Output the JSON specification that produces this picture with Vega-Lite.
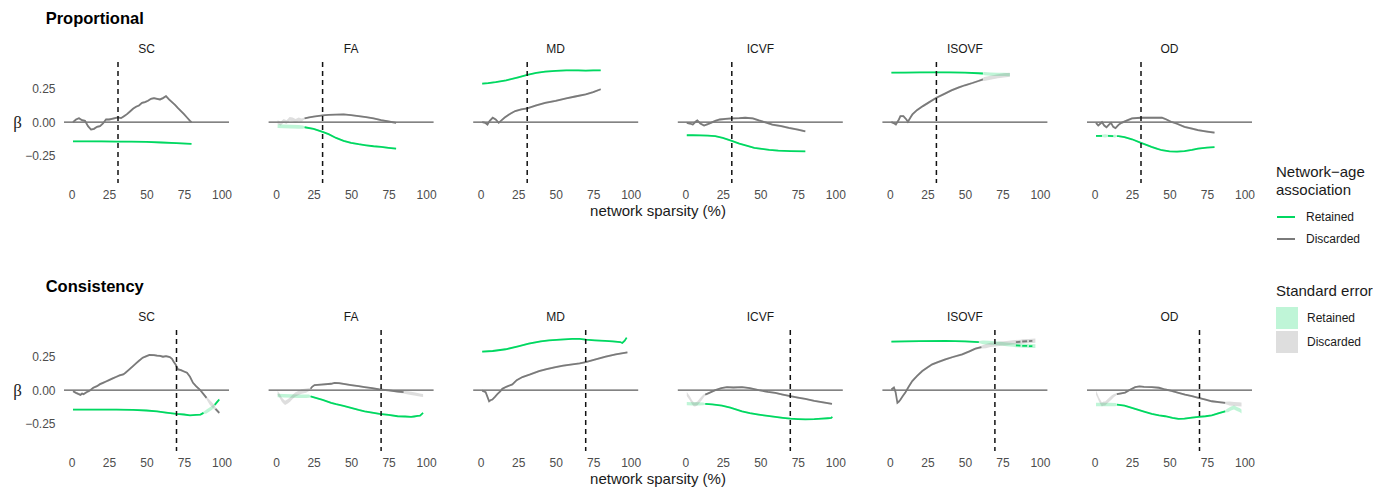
{
"$schema":"https://vega.github.io/schema/vega-lite/v6.json",
"background":"white",
"padding":{"left":12,"top":10,"right":0,"bottom":0},
"datasets":{
"P":[
{"v":"SC","s":"R","x":1,"y":-0.143,"e":0.006},{"v":"SC","s":"R","x":10,"y":-0.143,"e":0.006},{"v":"SC","s":"R","x":20,"y":-0.144,"e":0.006},{"v":"SC","s":"R","x":30,"y":-0.145,"e":0.006},{"v":"SC","s":"R","x":40,"y":-0.146,"e":0.006},{"v":"SC","s":"R","x":50,"y":-0.148,"e":0.006},{"v":"SC","s":"R","x":60,"y":-0.152,"e":0.006},{"v":"SC","s":"R","x":70,"y":-0.157,"e":0.006},{"v":"SC","s":"R","x":80,"y":-0.163,"e":0.006},
{"v":"SC","s":"D","x":1,"y":0.0,"e":0.008},{"v":"SC","s":"D","x":3,"y":0.02,"e":0.008},{"v":"SC","s":"D","x":5,"y":0.03,"e":0.008},{"v":"SC","s":"D","x":7,"y":0.015,"e":0.008},{"v":"SC","s":"D","x":9,"y":0.01,"e":0.008},{"v":"SC","s":"D","x":11,"y":-0.03,"e":0.008},{"v":"SC","s":"D","x":13,"y":-0.055,"e":0.008},{"v":"SC","s":"D","x":15,"y":-0.05,"e":0.008},{"v":"SC","s":"D","x":17,"y":-0.035,"e":0.008},{"v":"SC","s":"D","x":19,"y":-0.03,"e":0.008},{"v":"SC","s":"D","x":21,"y":-0.01,"e":0.008},{"v":"SC","s":"D","x":23,"y":0.02,"e":0.008},{"v":"SC","s":"D","x":25,"y":0.02,"e":0.008},{"v":"SC","s":"D","x":27,"y":0.025,"e":0.008},{"v":"SC","s":"D","x":29,"y":0.03,"e":0.008},{"v":"SC","s":"D","x":31,"y":0.035,"e":0.008},{"v":"SC","s":"D","x":33,"y":0.03,"e":0.008},{"v":"SC","s":"D","x":35,"y":0.045,"e":0.008},{"v":"SC","s":"D","x":37,"y":0.06,"e":0.008},{"v":"SC","s":"D","x":39,"y":0.08,"e":0.008},{"v":"SC","s":"D","x":41,"y":0.1,"e":0.008},{"v":"SC","s":"D","x":43,"y":0.115,"e":0.008},{"v":"SC","s":"D","x":45,"y":0.125,"e":0.008},{"v":"SC","s":"D","x":47,"y":0.145,"e":0.008},{"v":"SC","s":"D","x":49,"y":0.15,"e":0.008},{"v":"SC","s":"D","x":51,"y":0.16,"e":0.008},{"v":"SC","s":"D","x":53,"y":0.175,"e":0.008},{"v":"SC","s":"D","x":55,"y":0.18,"e":0.008},{"v":"SC","s":"D","x":57,"y":0.175,"e":0.008},{"v":"SC","s":"D","x":59,"y":0.17,"e":0.008},{"v":"SC","s":"D","x":61,"y":0.18,"e":0.008},{"v":"SC","s":"D","x":63,"y":0.195,"e":0.008},{"v":"SC","s":"D","x":65,"y":0.17,"e":0.008},{"v":"SC","s":"D","x":67,"y":0.15,"e":0.008},{"v":"SC","s":"D","x":69,"y":0.13,"e":0.008},{"v":"SC","s":"D","x":71,"y":0.105,"e":0.008},{"v":"SC","s":"D","x":73,"y":0.083,"e":0.008},{"v":"SC","s":"D","x":75,"y":0.06,"e":0.008},{"v":"SC","s":"D","x":77,"y":0.035,"e":0.008},{"v":"SC","s":"D","x":79,"y":0.01,"e":0.008},{"v":"SC","s":"D","x":80,"y":0.0,"e":0.008},
{"v":"FA","s":"R","x":1,"y":-0.03,"e":0.014,"h":1},{"v":"FA","s":"R","x":5,"y":-0.032,"e":0.014,"h":1},{"v":"FA","s":"R","x":10,"y":-0.033,"e":0.014,"h":1},{"v":"FA","s":"R","x":15,"y":-0.035,"e":0.014,"h":1},{"v":"FA","s":"R","x":18,"y":-0.037,"e":0.012,"h":1},{"v":"FA","s":"R","x":19,"y":-0.038,"e":0.006},{"v":"FA","s":"R","x":25,"y":-0.05,"e":0.006},{"v":"FA","s":"R","x":31,"y":-0.073,"e":0.006},{"v":"FA","s":"R","x":35,"y":-0.09,"e":0.006},{"v":"FA","s":"R","x":40,"y":-0.118,"e":0.006},{"v":"FA","s":"R","x":45,"y":-0.14,"e":0.006},{"v":"FA","s":"R","x":50,"y":-0.155,"e":0.006},{"v":"FA","s":"R","x":55,"y":-0.165,"e":0.006},{"v":"FA","s":"R","x":60,"y":-0.173,"e":0.006},{"v":"FA","s":"R","x":65,"y":-0.18,"e":0.006},{"v":"FA","s":"R","x":70,"y":-0.185,"e":0.006},{"v":"FA","s":"R","x":75,"y":-0.192,"e":0.006},{"v":"FA","s":"R","x":80,"y":-0.198,"e":0.006},
{"v":"FA","s":"D","x":1,"y":0.0,"e":0.014,"h":1},{"v":"FA","s":"D","x":3,"y":-0.01,"e":0.014,"h":1},{"v":"FA","s":"D","x":5,"y":0.01,"e":0.014,"h":1},{"v":"FA","s":"D","x":7,"y":0.0,"e":0.014,"h":1},{"v":"FA","s":"D","x":9,"y":0.025,"e":0.014,"h":1},{"v":"FA","s":"D","x":11,"y":0.02,"e":0.014,"h":1},{"v":"FA","s":"D","x":13,"y":0.01,"e":0.014,"h":1},{"v":"FA","s":"D","x":15,"y":0.02,"e":0.014,"h":1},{"v":"FA","s":"D","x":17,"y":0.015,"e":0.012,"h":1},{"v":"FA","s":"D","x":19,"y":0.028,"e":0.006},{"v":"FA","s":"D","x":22,"y":0.035,"e":0.006},{"v":"FA","s":"D","x":25,"y":0.042,"e":0.006},{"v":"FA","s":"D","x":31,"y":0.05,"e":0.006},{"v":"FA","s":"D","x":35,"y":0.055,"e":0.006},{"v":"FA","s":"D","x":40,"y":0.057,"e":0.006},{"v":"FA","s":"D","x":45,"y":0.058,"e":0.006},{"v":"FA","s":"D","x":50,"y":0.052,"e":0.006},{"v":"FA","s":"D","x":55,"y":0.045,"e":0.006},{"v":"FA","s":"D","x":60,"y":0.038,"e":0.006},{"v":"FA","s":"D","x":65,"y":0.028,"e":0.006},{"v":"FA","s":"D","x":70,"y":0.015,"e":0.006},{"v":"FA","s":"D","x":75,"y":0.005,"e":0.006},{"v":"FA","s":"D","x":80,"y":-0.005,"e":0.006},
{"v":"MD","s":"R","x":1,"y":0.288,"e":0.006},{"v":"MD","s":"R","x":5,"y":0.292,"e":0.006},{"v":"MD","s":"R","x":10,"y":0.3,"e":0.006},{"v":"MD","s":"R","x":17,"y":0.313,"e":0.006},{"v":"MD","s":"R","x":25,"y":0.335,"e":0.006},{"v":"MD","s":"R","x":31,"y":0.353,"e":0.006},{"v":"MD","s":"R","x":37,"y":0.368,"e":0.006},{"v":"MD","s":"R","x":43,"y":0.378,"e":0.006},{"v":"MD","s":"R","x":50,"y":0.384,"e":0.006},{"v":"MD","s":"R","x":57,"y":0.388,"e":0.006},{"v":"MD","s":"R","x":65,"y":0.387,"e":0.006},{"v":"MD","s":"R","x":70,"y":0.385,"e":0.006},{"v":"MD","s":"R","x":75,"y":0.387,"e":0.006},{"v":"MD","s":"R","x":80,"y":0.388,"e":0.006},
{"v":"MD","s":"D","x":1,"y":0.0,"e":0.007},{"v":"MD","s":"D","x":3,"y":-0.005,"e":0.007},{"v":"MD","s":"D","x":4.5,"y":-0.018,"e":0.007},{"v":"MD","s":"D","x":6,"y":0.01,"e":0.007},{"v":"MD","s":"D","x":8,"y":0.033,"e":0.007},{"v":"MD","s":"D","x":10,"y":0.02,"e":0.007},{"v":"MD","s":"D","x":12,"y":-0.005,"e":0.007},{"v":"MD","s":"D","x":14,"y":0.015,"e":0.007},{"v":"MD","s":"D","x":16,"y":0.035,"e":0.007},{"v":"MD","s":"D","x":20,"y":0.065,"e":0.007},{"v":"MD","s":"D","x":23,"y":0.083,"e":0.007},{"v":"MD","s":"D","x":27,"y":0.095,"e":0.007},{"v":"MD","s":"D","x":31,"y":0.103,"e":0.007},{"v":"MD","s":"D","x":37,"y":0.125,"e":0.007},{"v":"MD","s":"D","x":43,"y":0.145,"e":0.007},{"v":"MD","s":"D","x":50,"y":0.16,"e":0.007},{"v":"MD","s":"D","x":57,"y":0.178,"e":0.007},{"v":"MD","s":"D","x":63,"y":0.192,"e":0.007},{"v":"MD","s":"D","x":70,"y":0.208,"e":0.007},{"v":"MD","s":"D","x":75,"y":0.225,"e":0.007},{"v":"MD","s":"D","x":80,"y":0.246,"e":0.007},
{"v":"ICVF","s":"R","x":1,"y":-0.098,"e":0.006},{"v":"ICVF","s":"R","x":5,"y":-0.098,"e":0.006},{"v":"ICVF","s":"R","x":10,"y":-0.099,"e":0.006},{"v":"ICVF","s":"R","x":15,"y":-0.1,"e":0.006},{"v":"ICVF","s":"R","x":20,"y":-0.105,"e":0.006},{"v":"ICVF","s":"R","x":25,"y":-0.118,"e":0.006},{"v":"ICVF","s":"R","x":31,"y":-0.14,"e":0.006},{"v":"ICVF","s":"R","x":36,"y":-0.16,"e":0.006},{"v":"ICVF","s":"R","x":42,"y":-0.18,"e":0.006},{"v":"ICVF","s":"R","x":46,"y":-0.193,"e":0.006},{"v":"ICVF","s":"R","x":51,"y":-0.2,"e":0.006},{"v":"ICVF","s":"R","x":56,"y":-0.207,"e":0.006},{"v":"ICVF","s":"R","x":62,"y":-0.213,"e":0.006},{"v":"ICVF","s":"R","x":70,"y":-0.216,"e":0.006},{"v":"ICVF","s":"R","x":80,"y":-0.218,"e":0.006},
{"v":"ICVF","s":"D","x":1,"y":-0.005,"e":0.008},{"v":"ICVF","s":"D","x":3,"y":-0.01,"e":0.008},{"v":"ICVF","s":"D","x":5,"y":-0.018,"e":0.008},{"v":"ICVF","s":"D","x":7,"y":0.005,"e":0.008},{"v":"ICVF","s":"D","x":8,"y":0.013,"e":0.008},{"v":"ICVF","s":"D","x":10,"y":-0.01,"e":0.008},{"v":"ICVF","s":"D","x":12.5,"y":-0.025,"e":0.008},{"v":"ICVF","s":"D","x":15,"y":-0.015,"e":0.008},{"v":"ICVF","s":"D","x":17,"y":-0.005,"e":0.008},{"v":"ICVF","s":"D","x":20,"y":0.01,"e":0.008},{"v":"ICVF","s":"D","x":23,"y":0.02,"e":0.008},{"v":"ICVF","s":"D","x":27,"y":0.025,"e":0.008},{"v":"ICVF","s":"D","x":31,"y":0.028,"e":0.008},{"v":"ICVF","s":"D","x":36,"y":0.03,"e":0.008},{"v":"ICVF","s":"D","x":40,"y":0.033,"e":0.008},{"v":"ICVF","s":"D","x":45,"y":0.028,"e":0.008},{"v":"ICVF","s":"D","x":49,"y":0.013,"e":0.008},{"v":"ICVF","s":"D","x":54,"y":-0.003,"e":0.008},{"v":"ICVF","s":"D","x":58,"y":-0.018,"e":0.008},{"v":"ICVF","s":"D","x":64,"y":-0.03,"e":0.008},{"v":"ICVF","s":"D","x":69,"y":-0.043,"e":0.008},{"v":"ICVF","s":"D","x":75,"y":-0.055,"e":0.008},{"v":"ICVF","s":"D","x":80,"y":-0.068,"e":0.008},
{"v":"ISOVF","s":"R","x":1,"y":0.37,"e":0.006},{"v":"ISOVF","s":"R","x":10,"y":0.371,"e":0.006},{"v":"ISOVF","s":"R","x":20,"y":0.372,"e":0.006},{"v":"ISOVF","s":"R","x":31,"y":0.373,"e":0.006},{"v":"ISOVF","s":"R","x":40,"y":0.372,"e":0.006},{"v":"ISOVF","s":"R","x":50,"y":0.37,"e":0.006},{"v":"ISOVF","s":"R","x":59,"y":0.366,"e":0.006},{"v":"ISOVF","s":"R","x":62,"y":0.364,"e":0.008},{"v":"ISOVF","s":"R","x":63,"y":0.363,"e":0.012,"h":1},{"v":"ISOVF","s":"R","x":67,"y":0.36,"e":0.012,"h":1},{"v":"ISOVF","s":"R","x":72,"y":0.358,"e":0.012,"h":1},{"v":"ISOVF","s":"R","x":76,"y":0.357,"e":0.012,"h":1},{"v":"ISOVF","s":"R","x":80,"y":0.356,"e":0.012,"h":1},
{"v":"ISOVF","s":"D","x":1,"y":0.0,"e":0.008},{"v":"ISOVF","s":"D","x":3,"y":-0.01,"e":0.008},{"v":"ISOVF","s":"D","x":4,"y":-0.018,"e":0.008},{"v":"ISOVF","s":"D","x":6,"y":0.02,"e":0.008},{"v":"ISOVF","s":"D","x":7,"y":0.045,"e":0.008},{"v":"ISOVF","s":"D","x":9,"y":0.045,"e":0.008},{"v":"ISOVF","s":"D","x":11,"y":0.02,"e":0.008},{"v":"ISOVF","s":"D","x":12,"y":0.003,"e":0.008},{"v":"ISOVF","s":"D","x":14,"y":0.04,"e":0.008},{"v":"ISOVF","s":"D","x":15,"y":0.058,"e":0.008},{"v":"ISOVF","s":"D","x":18,"y":0.09,"e":0.008},{"v":"ISOVF","s":"D","x":22,"y":0.12,"e":0.008},{"v":"ISOVF","s":"D","x":26,"y":0.148,"e":0.008},{"v":"ISOVF","s":"D","x":31,"y":0.183,"e":0.008},{"v":"ISOVF","s":"D","x":36,"y":0.21,"e":0.008},{"v":"ISOVF","s":"D","x":41,"y":0.238,"e":0.008},{"v":"ISOVF","s":"D","x":46,"y":0.26,"e":0.008},{"v":"ISOVF","s":"D","x":50,"y":0.276,"e":0.008},{"v":"ISOVF","s":"D","x":55,"y":0.293,"e":0.008},{"v":"ISOVF","s":"D","x":59,"y":0.308,"e":0.008},{"v":"ISOVF","s":"D","x":62,"y":0.32,"e":0.01},{"v":"ISOVF","s":"D","x":63,"y":0.322,"e":0.015,"h":1},{"v":"ISOVF","s":"D","x":67,"y":0.333,"e":0.015,"h":1},{"v":"ISOVF","s":"D","x":72,"y":0.343,"e":0.015,"h":1},{"v":"ISOVF","s":"D","x":76,"y":0.35,"e":0.015,"h":1},{"v":"ISOVF","s":"D","x":80,"y":0.354,"e":0.015,"h":1},
{"v":"OD","s":"R","x":1,"y":-0.103,"e":0.006},{"v":"OD","s":"R","x":5,"y":-0.103,"e":0.008},{"v":"OD","s":"R","x":7,"y":-0.103,"e":0.012,"h":1},{"v":"OD","s":"R","x":9,"y":-0.103,"e":0.008,"g":2},{"v":"OD","s":"R","x":12.5,"y":-0.104,"e":0.008,"g":2},{"v":"OD","s":"R","x":13.5,"y":-0.104,"e":0.012,"h":1},{"v":"OD","s":"R","x":15,"y":-0.104,"e":0.006,"g":3},{"v":"OD","s":"R","x":16,"y":-0.105,"e":0.006,"g":3},{"v":"OD","s":"R","x":20,"y":-0.112,"e":0.006,"g":3},{"v":"OD","s":"R","x":25,"y":-0.128,"e":0.006,"g":3},{"v":"OD","s":"R","x":31,"y":-0.155,"e":0.006,"g":3},{"v":"OD","s":"R","x":35,"y":-0.172,"e":0.006,"g":3},{"v":"OD","s":"R","x":38,"y":-0.185,"e":0.006,"g":3},{"v":"OD","s":"R","x":42,"y":-0.2,"e":0.006,"g":3},{"v":"OD","s":"R","x":45,"y":-0.21,"e":0.006,"g":3},{"v":"OD","s":"R","x":50,"y":-0.218,"e":0.006,"g":3},{"v":"OD","s":"R","x":55,"y":-0.22,"e":0.006,"g":3},{"v":"OD","s":"R","x":60,"y":-0.216,"e":0.006,"g":3},{"v":"OD","s":"R","x":65,"y":-0.207,"e":0.006,"g":3},{"v":"OD","s":"R","x":69,"y":-0.198,"e":0.006,"g":3},{"v":"OD","s":"R","x":75,"y":-0.19,"e":0.006,"g":3},{"v":"OD","s":"R","x":80,"y":-0.186,"e":0.006,"g":3},
{"v":"OD","s":"D","x":1,"y":-0.005,"e":0.008},{"v":"OD","s":"D","x":2.5,"y":-0.025,"e":0.008},{"v":"OD","s":"D","x":4,"y":-0.01,"e":0.008},{"v":"OD","s":"D","x":5,"y":0.0,"e":0.008},{"v":"OD","s":"D","x":6.5,"y":-0.025,"e":0.008},{"v":"OD","s":"D","x":8,"y":-0.038,"e":0.008},{"v":"OD","s":"D","x":9.5,"y":-0.02,"e":0.008},{"v":"OD","s":"D","x":11,"y":-0.005,"e":0.008},{"v":"OD","s":"D","x":12.5,"y":-0.035,"e":0.008},{"v":"OD","s":"D","x":14,"y":-0.045,"e":0.008},{"v":"OD","s":"D","x":16,"y":-0.02,"e":0.008},{"v":"OD","s":"D","x":18,"y":-0.005,"e":0.008},{"v":"OD","s":"D","x":21,"y":0.01,"e":0.008},{"v":"OD","s":"D","x":25,"y":0.028,"e":0.008},{"v":"OD","s":"D","x":31,"y":0.033,"e":0.008},{"v":"OD","s":"D","x":38,"y":0.033,"e":0.008},{"v":"OD","s":"D","x":45,"y":0.033,"e":0.008},{"v":"OD","s":"D","x":48,"y":0.02,"e":0.008},{"v":"OD","s":"D","x":51,"y":0.003,"e":0.008},{"v":"OD","s":"D","x":55,"y":-0.012,"e":0.008},{"v":"OD","s":"D","x":60,"y":-0.035,"e":0.008},{"v":"OD","s":"D","x":65,"y":-0.048,"e":0.008},{"v":"OD","s":"D","x":69,"y":-0.06,"e":0.008},{"v":"OD","s":"D","x":75,"y":-0.07,"e":0.008},{"v":"OD","s":"D","x":80,"y":-0.078,"e":0.008}
],
"C":[
{"v":"SC","s":"R","x":1,"y":-0.145,"e":0.006},{"v":"SC","s":"R","x":10,"y":-0.145,"e":0.006},{"v":"SC","s":"R","x":20,"y":-0.145,"e":0.006},{"v":"SC","s":"R","x":30,"y":-0.145,"e":0.006},{"v":"SC","s":"R","x":41,"y":-0.148,"e":0.006},{"v":"SC","s":"R","x":50,"y":-0.152,"e":0.006},{"v":"SC","s":"R","x":57,"y":-0.158,"e":0.006},{"v":"SC","s":"R","x":63,"y":-0.168,"e":0.006},{"v":"SC","s":"R","x":70,"y":-0.178,"e":0.006},{"v":"SC","s":"R","x":75,"y":-0.182,"e":0.006},{"v":"SC","s":"R","x":79,"y":-0.188,"e":0.006},{"v":"SC","s":"R","x":83,"y":-0.185,"e":0.006},{"v":"SC","s":"R","x":86,"y":-0.183,"e":0.006},{"v":"SC","s":"R","x":88,"y":-0.17,"e":0.008},{"v":"SC","s":"R","x":90,"y":-0.16,"e":0.015,"h":1},{"v":"SC","s":"R","x":92,"y":-0.145,"e":0.015,"h":1},{"v":"SC","s":"R","x":94,"y":-0.13,"e":0.015,"h":1},{"v":"SC","s":"R","x":95.5,"y":-0.11,"e":0.01,"g":2},{"v":"SC","s":"R","x":97,"y":-0.09,"e":0.01,"g":2},{"v":"SC","s":"R","x":98.5,"y":-0.07,"e":0.01,"g":2},
{"v":"SC","s":"D","x":1,"y":-0.008,"e":0.008},{"v":"SC","s":"D","x":3,"y":-0.02,"e":0.008},{"v":"SC","s":"D","x":4.5,"y":-0.028,"e":0.008},{"v":"SC","s":"D","x":6,"y":-0.035,"e":0.008},{"v":"SC","s":"D","x":7,"y":-0.025,"e":0.008},{"v":"SC","s":"D","x":8,"y":-0.03,"e":0.008},{"v":"SC","s":"D","x":10,"y":-0.015,"e":0.008},{"v":"SC","s":"D","x":12,"y":-0.005,"e":0.008},{"v":"SC","s":"D","x":14.5,"y":0.018,"e":0.008},{"v":"SC","s":"D","x":17,"y":0.03,"e":0.008},{"v":"SC","s":"D","x":19,"y":0.045,"e":0.008},{"v":"SC","s":"D","x":21,"y":0.055,"e":0.008},{"v":"SC","s":"D","x":23,"y":0.065,"e":0.008},{"v":"SC","s":"D","x":25,"y":0.075,"e":0.008},{"v":"SC","s":"D","x":27.5,"y":0.088,"e":0.008},{"v":"SC","s":"D","x":30,"y":0.1,"e":0.008},{"v":"SC","s":"D","x":32,"y":0.11,"e":0.008},{"v":"SC","s":"D","x":34.5,"y":0.118,"e":0.008},{"v":"SC","s":"D","x":36,"y":0.13,"e":0.008},{"v":"SC","s":"D","x":38,"y":0.15,"e":0.008},{"v":"SC","s":"D","x":41,"y":0.18,"e":0.008},{"v":"SC","s":"D","x":43,"y":0.2,"e":0.008},{"v":"SC","s":"D","x":45,"y":0.22,"e":0.008},{"v":"SC","s":"D","x":47.5,"y":0.243,"e":0.008},{"v":"SC","s":"D","x":50,"y":0.255,"e":0.008},{"v":"SC","s":"D","x":52,"y":0.263,"e":0.008},{"v":"SC","s":"D","x":55,"y":0.262,"e":0.008},{"v":"SC","s":"D","x":57,"y":0.258,"e":0.008},{"v":"SC","s":"D","x":59,"y":0.256,"e":0.008},{"v":"SC","s":"D","x":61,"y":0.25,"e":0.008},{"v":"SC","s":"D","x":63,"y":0.255,"e":0.008},{"v":"SC","s":"D","x":65.5,"y":0.248,"e":0.008},{"v":"SC","s":"D","x":67,"y":0.235,"e":0.008},{"v":"SC","s":"D","x":68,"y":0.215,"e":0.008},{"v":"SC","s":"D","x":69.5,"y":0.19,"e":0.008},{"v":"SC","s":"D","x":71,"y":0.155,"e":0.008},{"v":"SC","s":"D","x":73,"y":0.15,"e":0.008},{"v":"SC","s":"D","x":75,"y":0.14,"e":0.008},{"v":"SC","s":"D","x":77,"y":0.13,"e":0.008},{"v":"SC","s":"D","x":79,"y":0.1,"e":0.008},{"v":"SC","s":"D","x":81,"y":0.055,"e":0.008},{"v":"SC","s":"D","x":83,"y":0.03,"e":0.008},{"v":"SC","s":"D","x":85.5,"y":0.005,"e":0.008},{"v":"SC","s":"D","x":88,"y":-0.03,"e":0.008},{"v":"SC","s":"D","x":90,"y":-0.058,"e":0.01},{"v":"SC","s":"D","x":92,"y":-0.09,"e":0.018,"h":1},{"v":"SC","s":"D","x":94.5,"y":-0.12,"e":0.018,"h":1},{"v":"SC","s":"D","x":96,"y":-0.14,"e":0.012,"g":2},{"v":"SC","s":"D","x":98.5,"y":-0.17,"e":0.012,"g":2},
{"v":"FA","s":"R","x":1,"y":-0.04,"e":0.013,"h":1},{"v":"FA","s":"R","x":5,"y":-0.042,"e":0.013,"h":1},{"v":"FA","s":"R","x":10,"y":-0.044,"e":0.013,"h":1},{"v":"FA","s":"R","x":15,"y":-0.045,"e":0.013,"h":1},{"v":"FA","s":"R","x":20,"y":-0.045,"e":0.013,"h":1},{"v":"FA","s":"R","x":22,"y":-0.045,"e":0.012,"h":1},{"v":"FA","s":"R","x":23,"y":-0.047,"e":0.006},{"v":"FA","s":"R","x":27,"y":-0.06,"e":0.006},{"v":"FA","s":"R","x":31,"y":-0.072,"e":0.006},{"v":"FA","s":"R","x":36.7,"y":-0.095,"e":0.006},{"v":"FA","s":"R","x":40,"y":-0.105,"e":0.006},{"v":"FA","s":"R","x":45,"y":-0.118,"e":0.006},{"v":"FA","s":"R","x":50,"y":-0.133,"e":0.006},{"v":"FA","s":"R","x":55,"y":-0.148,"e":0.006},{"v":"FA","s":"R","x":59,"y":-0.158,"e":0.006},{"v":"FA","s":"R","x":64,"y":-0.168,"e":0.006},{"v":"FA","s":"R","x":69,"y":-0.178,"e":0.006},{"v":"FA","s":"R","x":75,"y":-0.185,"e":0.006},{"v":"FA","s":"R","x":81,"y":-0.195,"e":0.006},{"v":"FA","s":"R","x":86,"y":-0.197,"e":0.006},{"v":"FA","s":"R","x":90,"y":-0.2,"e":0.006},{"v":"FA","s":"R","x":92,"y":-0.197,"e":0.006},{"v":"FA","s":"R","x":94.4,"y":-0.193,"e":0.006},{"v":"FA","s":"R","x":96,"y":-0.19,"e":0.006},{"v":"FA","s":"R","x":98,"y":-0.17,"e":0.006},
{"v":"FA","s":"D","x":1,"y":-0.02,"e":0.016,"h":1},{"v":"FA","s":"D","x":2.5,"y":-0.045,"e":0.016,"h":1},{"v":"FA","s":"D","x":3.8,"y":-0.07,"e":0.016,"h":1},{"v":"FA","s":"D","x":5,"y":-0.085,"e":0.016,"h":1},{"v":"FA","s":"D","x":6,"y":-0.095,"e":0.016,"h":1},{"v":"FA","s":"D","x":7.5,"y":-0.085,"e":0.016,"h":1},{"v":"FA","s":"D","x":9.3,"y":-0.07,"e":0.016,"h":1},{"v":"FA","s":"D","x":11,"y":-0.05,"e":0.016,"h":1},{"v":"FA","s":"D","x":12.7,"y":-0.033,"e":0.016,"h":1},{"v":"FA","s":"D","x":15,"y":-0.02,"e":0.016,"h":1},{"v":"FA","s":"D","x":17,"y":-0.01,"e":0.016,"h":1},{"v":"FA","s":"D","x":20,"y":-0.003,"e":0.016,"h":1},{"v":"FA","s":"D","x":22,"y":0.005,"e":0.012,"h":1},{"v":"FA","s":"D","x":23,"y":0.01,"e":0.007},{"v":"FA","s":"D","x":24,"y":0.025,"e":0.007},{"v":"FA","s":"D","x":25.6,"y":0.038,"e":0.007},{"v":"FA","s":"D","x":30,"y":0.042,"e":0.007},{"v":"FA","s":"D","x":36.7,"y":0.048,"e":0.007},{"v":"FA","s":"D","x":39,"y":0.055,"e":0.007},{"v":"FA","s":"D","x":42,"y":0.052,"e":0.007},{"v":"FA","s":"D","x":46,"y":0.045,"e":0.007},{"v":"FA","s":"D","x":50,"y":0.038,"e":0.007},{"v":"FA","s":"D","x":55,"y":0.03,"e":0.007},{"v":"FA","s":"D","x":59,"y":0.023,"e":0.007},{"v":"FA","s":"D","x":64,"y":0.015,"e":0.007},{"v":"FA","s":"D","x":69,"y":0.005,"e":0.007},{"v":"FA","s":"D","x":75,"y":-0.002,"e":0.007},{"v":"FA","s":"D","x":81,"y":-0.01,"e":0.008},{"v":"FA","s":"D","x":85,"y":-0.015,"e":0.01},{"v":"FA","s":"D","x":88,"y":-0.02,"e":0.012,"h":1},{"v":"FA","s":"D","x":92,"y":-0.028,"e":0.012,"h":1},{"v":"FA","s":"D","x":96.7,"y":-0.038,"e":0.012,"h":1},{"v":"FA","s":"D","x":98,"y":-0.04,"e":0.012,"h":1},
{"v":"MD","s":"R","x":1,"y":0.288,"e":0.006},{"v":"MD","s":"R","x":8,"y":0.293,"e":0.006},{"v":"MD","s":"R","x":16.7,"y":0.306,"e":0.006},{"v":"MD","s":"R","x":25,"y":0.328,"e":0.006},{"v":"MD","s":"R","x":32,"y":0.348,"e":0.006},{"v":"MD","s":"R","x":40,"y":0.365,"e":0.006},{"v":"MD","s":"R","x":45.6,"y":0.373,"e":0.006},{"v":"MD","s":"R","x":53,"y":0.378,"e":0.006},{"v":"MD","s":"R","x":61,"y":0.383,"e":0.006},{"v":"MD","s":"R","x":66,"y":0.383,"e":0.006},{"v":"MD","s":"R","x":70,"y":0.378,"e":0.006},{"v":"MD","s":"R","x":76,"y":0.373,"e":0.006},{"v":"MD","s":"R","x":83,"y":0.368,"e":0.006},{"v":"MD","s":"R","x":88,"y":0.365,"e":0.006},{"v":"MD","s":"R","x":93,"y":0.36,"e":0.006},{"v":"MD","s":"R","x":94.4,"y":0.353,"e":0.006},{"v":"MD","s":"R","x":96,"y":0.37,"e":0.006},{"v":"MD","s":"R","x":97.3,"y":0.393,"e":0.006},
{"v":"MD","s":"D","x":1,"y":-0.003,"e":0.007},{"v":"MD","s":"D","x":3.3,"y":-0.015,"e":0.007},{"v":"MD","s":"D","x":4.5,"y":-0.05,"e":0.007},{"v":"MD","s":"D","x":5.6,"y":-0.083,"e":0.007},{"v":"MD","s":"D","x":6.5,"y":-0.075,"e":0.007},{"v":"MD","s":"D","x":7.8,"y":-0.07,"e":0.007},{"v":"MD","s":"D","x":9.5,"y":-0.05,"e":0.007},{"v":"MD","s":"D","x":11.1,"y":-0.03,"e":0.007},{"v":"MD","s":"D","x":13,"y":-0.01,"e":0.007},{"v":"MD","s":"D","x":14.4,"y":0.01,"e":0.007},{"v":"MD","s":"D","x":17,"y":0.025,"e":0.007},{"v":"MD","s":"D","x":21.1,"y":0.043,"e":0.007},{"v":"MD","s":"D","x":24,"y":0.075,"e":0.007},{"v":"MD","s":"D","x":27.8,"y":0.098,"e":0.007},{"v":"MD","s":"D","x":33,"y":0.118,"e":0.007},{"v":"MD","s":"D","x":38.9,"y":0.143,"e":0.007},{"v":"MD","s":"D","x":44,"y":0.158,"e":0.007},{"v":"MD","s":"D","x":50,"y":0.173,"e":0.007},{"v":"MD","s":"D","x":55,"y":0.183,"e":0.007},{"v":"MD","s":"D","x":61.1,"y":0.193,"e":0.007},{"v":"MD","s":"D","x":66,"y":0.2,"e":0.007},{"v":"MD","s":"D","x":70,"y":0.21,"e":0.007},{"v":"MD","s":"D","x":76,"y":0.228,"e":0.007},{"v":"MD","s":"D","x":83.3,"y":0.25,"e":0.007},{"v":"MD","s":"D","x":90,"y":0.268,"e":0.007},{"v":"MD","s":"D","x":97.8,"y":0.283,"e":0.007},
{"v":"ICVF","s":"R","x":1,"y":-0.1,"e":0.012,"h":1},{"v":"ICVF","s":"R","x":5,"y":-0.102,"e":0.012,"h":1},{"v":"ICVF","s":"R","x":9,"y":-0.103,"e":0.012,"h":1},{"v":"ICVF","s":"R","x":12,"y":-0.103,"e":0.01,"h":1},{"v":"ICVF","s":"R","x":13.3,"y":-0.103,"e":0.006},{"v":"ICVF","s":"R","x":18,"y":-0.107,"e":0.006},{"v":"ICVF","s":"R","x":24.4,"y":-0.115,"e":0.006},{"v":"ICVF","s":"R","x":30,"y":-0.13,"e":0.006},{"v":"ICVF","s":"R","x":37.8,"y":-0.158,"e":0.006},{"v":"ICVF","s":"R","x":43,"y":-0.172,"e":0.006},{"v":"ICVF","s":"R","x":48.9,"y":-0.183,"e":0.006},{"v":"ICVF","s":"R","x":55,"y":-0.193,"e":0.006},{"v":"ICVF","s":"R","x":60,"y":-0.2,"e":0.006},{"v":"ICVF","s":"R","x":65,"y":-0.207,"e":0.006},{"v":"ICVF","s":"R","x":70,"y":-0.213,"e":0.006},{"v":"ICVF","s":"R","x":75,"y":-0.216,"e":0.006},{"v":"ICVF","s":"R","x":80,"y":-0.218,"e":0.006},{"v":"ICVF","s":"R","x":86,"y":-0.216,"e":0.006},{"v":"ICVF","s":"R","x":91.1,"y":-0.213,"e":0.006},{"v":"ICVF","s":"R","x":95,"y":-0.21,"e":0.006},{"v":"ICVF","s":"R","x":97.3,"y":-0.208,"e":0.006},{"v":"ICVF","s":"R","x":98,"y":-0.2,"e":0.006},
{"v":"ICVF","s":"D","x":1,"y":-0.028,"e":0.015,"h":1},{"v":"ICVF","s":"D","x":3,"y":-0.06,"e":0.015,"h":1},{"v":"ICVF","s":"D","x":4.5,"y":-0.09,"e":0.015,"h":1},{"v":"ICVF","s":"D","x":5.8,"y":-0.108,"e":0.015,"h":1},{"v":"ICVF","s":"D","x":7,"y":-0.105,"e":0.015,"h":1},{"v":"ICVF","s":"D","x":8,"y":-0.1,"e":0.015,"h":1},{"v":"ICVF","s":"D","x":9.5,"y":-0.08,"e":0.015,"h":1},{"v":"ICVF","s":"D","x":11.1,"y":-0.058,"e":0.015,"h":1},{"v":"ICVF","s":"D","x":12.5,"y":-0.04,"e":0.012,"h":1},{"v":"ICVF","s":"D","x":13.3,"y":-0.033,"e":0.007},{"v":"ICVF","s":"D","x":16,"y":-0.02,"e":0.007},{"v":"ICVF","s":"D","x":20,"y":0.0,"e":0.007},{"v":"ICVF","s":"D","x":24,"y":0.015,"e":0.007},{"v":"ICVF","s":"D","x":27.8,"y":0.023,"e":0.007},{"v":"ICVF","s":"D","x":32,"y":0.02,"e":0.007},{"v":"ICVF","s":"D","x":37.8,"y":0.023,"e":0.007},{"v":"ICVF","s":"D","x":43,"y":0.015,"e":0.007},{"v":"ICVF","s":"D","x":48.9,"y":0.0,"e":0.007},{"v":"ICVF","s":"D","x":55,"y":-0.012,"e":0.007},{"v":"ICVF","s":"D","x":60,"y":-0.02,"e":0.007},{"v":"ICVF","s":"D","x":65,"y":-0.033,"e":0.007},{"v":"ICVF","s":"D","x":70,"y":-0.045,"e":0.007},{"v":"ICVF","s":"D","x":75,"y":-0.055,"e":0.007},{"v":"ICVF","s":"D","x":80,"y":-0.065,"e":0.007},{"v":"ICVF","s":"D","x":86,"y":-0.08,"e":0.007},{"v":"ICVF","s":"D","x":92,"y":-0.092,"e":0.007},{"v":"ICVF","s":"D","x":97.8,"y":-0.103,"e":0.007},
{"v":"ISOVF","s":"R","x":1,"y":0.363,"e":0.006},{"v":"ISOVF","s":"R","x":10,"y":0.365,"e":0.006},{"v":"ISOVF","s":"R","x":20,"y":0.367,"e":0.006},{"v":"ISOVF","s":"R","x":37,"y":0.368,"e":0.006},{"v":"ISOVF","s":"R","x":50,"y":0.365,"e":0.006},{"v":"ISOVF","s":"R","x":59.3,"y":0.36,"e":0.008},{"v":"ISOVF","s":"R","x":62,"y":0.358,"e":0.014,"h":1},{"v":"ISOVF","s":"R","x":66,"y":0.355,"e":0.014,"h":1},{"v":"ISOVF","s":"R","x":70,"y":0.352,"e":0.014,"h":1},{"v":"ISOVF","s":"R","x":74,"y":0.348,"e":0.014,"h":1},{"v":"ISOVF","s":"R","x":78,"y":0.343,"e":0.014,"h":1},{"v":"ISOVF","s":"R","x":82,"y":0.338,"e":0.014,"h":1},{"v":"ISOVF","s":"R","x":84,"y":0.335,"e":0.014,"g":2},{"v":"ISOVF","s":"R","x":87,"y":0.333,"e":0.014,"g":2},{"v":"ISOVF","s":"R","x":87.6,"y":0.333,"e":0.014,"h":1},{"v":"ISOVF","s":"R","x":88.2,"y":0.332,"e":0.014,"g":3},{"v":"ISOVF","s":"R","x":91.5,"y":0.331,"e":0.014,"g":3},{"v":"ISOVF","s":"R","x":92.1,"y":0.331,"e":0.014,"h":1},{"v":"ISOVF","s":"R","x":92.7,"y":0.33,"e":0.014,"g":4},{"v":"ISOVF","s":"R","x":95,"y":0.329,"e":0.014,"g":4},{"v":"ISOVF","s":"R","x":97,"y":0.329,"e":0.014,"h":1},
{"v":"ISOVF","s":"D","x":1,"y":0.005,"e":0.008},{"v":"ISOVF","s":"D","x":2.7,"y":0.02,"e":0.008},{"v":"ISOVF","s":"D","x":3.8,"y":-0.015,"e":0.008},{"v":"ISOVF","s":"D","x":5,"y":-0.095,"e":0.008},{"v":"ISOVF","s":"D","x":6,"y":-0.085,"e":0.008},{"v":"ISOVF","s":"D","x":7.1,"y":-0.07,"e":0.008},{"v":"ISOVF","s":"D","x":8.5,"y":-0.045,"e":0.008},{"v":"ISOVF","s":"D","x":10.4,"y":-0.015,"e":0.008},{"v":"ISOVF","s":"D","x":12.5,"y":0.025,"e":0.008},{"v":"ISOVF","s":"D","x":14.9,"y":0.068,"e":0.008},{"v":"ISOVF","s":"D","x":18,"y":0.105,"e":0.008},{"v":"ISOVF","s":"D","x":21.6,"y":0.143,"e":0.008},{"v":"ISOVF","s":"D","x":25,"y":0.17,"e":0.008},{"v":"ISOVF","s":"D","x":28.2,"y":0.193,"e":0.008},{"v":"ISOVF","s":"D","x":32,"y":0.21,"e":0.008},{"v":"ISOVF","s":"D","x":37,"y":0.23,"e":0.008},{"v":"ISOVF","s":"D","x":42,"y":0.248,"e":0.008},{"v":"ISOVF","s":"D","x":48.2,"y":0.268,"e":0.008},{"v":"ISOVF","s":"D","x":53,"y":0.29,"e":0.008},{"v":"ISOVF","s":"D","x":57,"y":0.31,"e":0.008},{"v":"ISOVF","s":"D","x":61,"y":0.322,"e":0.01},{"v":"ISOVF","s":"D","x":64,"y":0.33,"e":0.016,"h":1},{"v":"ISOVF","s":"D","x":67,"y":0.338,"e":0.016,"h":1},{"v":"ISOVF","s":"D","x":70.4,"y":0.343,"e":0.016,"h":1},{"v":"ISOVF","s":"D","x":74,"y":0.348,"e":0.016,"h":1},{"v":"ISOVF","s":"D","x":78,"y":0.352,"e":0.016,"h":1},{"v":"ISOVF","s":"D","x":82,"y":0.357,"e":0.016,"h":1},{"v":"ISOVF","s":"D","x":84,"y":0.36,"e":0.016,"g":2},{"v":"ISOVF","s":"D","x":87,"y":0.362,"e":0.016,"g":2},{"v":"ISOVF","s":"D","x":87.6,"y":0.363,"e":0.016,"h":1},{"v":"ISOVF","s":"D","x":88.2,"y":0.364,"e":0.016,"g":3},{"v":"ISOVF","s":"D","x":91.5,"y":0.366,"e":0.016,"g":3},{"v":"ISOVF","s":"D","x":92.1,"y":0.366,"e":0.016,"h":1},{"v":"ISOVF","s":"D","x":92.7,"y":0.367,"e":0.016,"g":4},{"v":"ISOVF","s":"D","x":95,"y":0.368,"e":0.016,"g":4},{"v":"ISOVF","s":"D","x":97,"y":0.37,"e":0.016,"h":1},
{"v":"OD","s":"R","x":1,"y":-0.108,"e":0.013,"h":1},{"v":"OD","s":"R","x":5,"y":-0.108,"e":0.013,"h":1},{"v":"OD","s":"R","x":10,"y":-0.108,"e":0.013,"h":1},{"v":"OD","s":"R","x":14,"y":-0.108,"e":0.012,"h":1},{"v":"OD","s":"R","x":15,"y":-0.108,"e":0.006},{"v":"OD","s":"R","x":20,"y":-0.115,"e":0.006},{"v":"OD","s":"R","x":27.1,"y":-0.14,"e":0.006},{"v":"OD","s":"R","x":33,"y":-0.16,"e":0.006},{"v":"OD","s":"R","x":38.2,"y":-0.178,"e":0.006},{"v":"OD","s":"R","x":43,"y":-0.188,"e":0.006},{"v":"OD","s":"R","x":47.1,"y":-0.195,"e":0.006},{"v":"OD","s":"R","x":52,"y":-0.207,"e":0.006},{"v":"OD","s":"R","x":56,"y":-0.215,"e":0.006},{"v":"OD","s":"R","x":60,"y":-0.213,"e":0.006},{"v":"OD","s":"R","x":65,"y":-0.205,"e":0.006},{"v":"OD","s":"R","x":69.3,"y":-0.2,"e":0.006},{"v":"OD","s":"R","x":74,"y":-0.195,"e":0.006},{"v":"OD","s":"R","x":78.2,"y":-0.188,"e":0.006},{"v":"OD","s":"R","x":83,"y":-0.172,"e":0.006},{"v":"OD","s":"R","x":87.1,"y":-0.158,"e":0.008},{"v":"OD","s":"R","x":89,"y":-0.15,"e":0.015,"h":1},{"v":"OD","s":"R","x":91,"y":-0.138,"e":0.015,"h":1},{"v":"OD","s":"R","x":93,"y":-0.13,"e":0.015,"h":1},{"v":"OD","s":"R","x":95,"y":-0.14,"e":0.015,"h":1},{"v":"OD","s":"R","x":97,"y":-0.15,"e":0.015,"h":1},{"v":"OD","s":"R","x":98,"y":-0.16,"e":0.015,"h":1},
{"v":"OD","s":"D","x":1,"y":-0.02,"e":0.015,"h":1},{"v":"OD","s":"D","x":1.6,"y":-0.033,"e":0.015,"h":1},{"v":"OD","s":"D","x":3,"y":-0.07,"e":0.015,"h":1},{"v":"OD","s":"D","x":4.9,"y":-0.108,"e":0.015,"h":1},{"v":"OD","s":"D","x":6,"y":-0.1,"e":0.015,"h":1},{"v":"OD","s":"D","x":7.1,"y":-0.1,"e":0.015,"h":1},{"v":"OD","s":"D","x":9,"y":-0.08,"e":0.015,"h":1},{"v":"OD","s":"D","x":11.6,"y":-0.053,"e":0.015,"h":1},{"v":"OD","s":"D","x":13,"y":-0.04,"e":0.012,"h":1},{"v":"OD","s":"D","x":14.9,"y":-0.03,"e":0.007},{"v":"OD","s":"D","x":17,"y":-0.025,"e":0.007},{"v":"OD","s":"D","x":20.4,"y":-0.018,"e":0.007},{"v":"OD","s":"D","x":24,"y":0.005,"e":0.007},{"v":"OD","s":"D","x":27.1,"y":0.023,"e":0.007},{"v":"OD","s":"D","x":30,"y":0.028,"e":0.007},{"v":"OD","s":"D","x":33,"y":0.025,"e":0.007},{"v":"OD","s":"D","x":38.2,"y":0.023,"e":0.007},{"v":"OD","s":"D","x":43,"y":0.018,"e":0.007},{"v":"OD","s":"D","x":47.1,"y":0.005,"e":0.007},{"v":"OD","s":"D","x":52,"y":-0.008,"e":0.007},{"v":"OD","s":"D","x":56,"y":-0.02,"e":0.007},{"v":"OD","s":"D","x":60.4,"y":-0.033,"e":0.007},{"v":"OD","s":"D","x":65,"y":-0.045,"e":0.007},{"v":"OD","s":"D","x":69.3,"y":-0.058,"e":0.007},{"v":"OD","s":"D","x":74,"y":-0.07,"e":0.007},{"v":"OD","s":"D","x":78.2,"y":-0.083,"e":0.007},{"v":"OD","s":"D","x":83,"y":-0.09,"e":0.007},{"v":"OD","s":"D","x":87.1,"y":-0.095,"e":0.008},{"v":"OD","s":"D","x":90,"y":-0.1,"e":0.015,"h":1},{"v":"OD","s":"D","x":93,"y":-0.103,"e":0.015,"h":1},{"v":"OD","s":"D","x":96,"y":-0.105,"e":0.015,"h":1},{"v":"OD","s":"D","x":98,"y":-0.107,"e":0.015,"h":1}
]
},
"config":{
"font":"Liberation Sans",
"view":{"stroke":null},
"axis":{"grid":false,"domain":false,"ticks":false,"labelColor":"#4d4d4d","labelFontSize":12,"titleFontWeight":"normal","titleColor":"#1a1a1a"},
"header":{"labelFontSize":12,"labelFontWeight":"normal","labelColor":"#1a1a1a","labelPadding":5,"labelOrient":"top","titleOrient":"bottom","titleFontSize":15,"titleFontWeight":"normal","titleColor":"#1a1a1a","titlePadding":-6},
"facet":{"spacing":37.6},
"concat":{"spacing":59},
"legend":{"titleFontWeight":"normal","titleFontSize":15,"titleColor":"#1a1a1a","labelFontSize":12,"labelColor":"#1a1a1a","titleLineHeight":18}
},
"vconcat":[
{
"data":{"name":"P"},
"title":{"text":"Proportional","anchor":"start","fontSize":16.5,"fontWeight":"bold","color":"#000000","dx":33,"offset":16},
"facet":{"column":{"field":"v","type":"nominal","sort":["SC","FA","MD","ICVF","ISOVF","OD"],"title":"network sparsity (%)"}},
"spec":{
"width":165,"height":121,
"layer":[
{"transform":[{"window":[{"op":"row_number","as":"rn"}],"groupby":["v"]},{"filter":"datum.rn == 1"}],
 "mark":{"type":"rule","color":"#5a5a5a","strokeWidth":1.1},
 "encoding":{"y":{"datum":0,"type":"quantitative","title":"β"}}},
{"mark":{"type":"errorband","opacity":0.25},
 "encoding":{
  "x":{"field":"x","type":"quantitative","title":null,"scale":{"domain":[-5,105],"nice":false,"zero":false},"axis":{"values":[0,25,50,75,100],"labelPadding":5}},
  "y":{"field":"y","type":"quantitative","title":"β","scale":{"domain":[-0.455,0.45],"nice":false,"zero":false},"axis":{"values":[-0.25,0,0.25],"format":".2f","labelPadding":8,"titleAngle":0,"titleFont":"Liberation Serif","titleFontSize":17,"titleAlign":"center","titleBaseline":"middle","titleX":-46,"titleY":60}},
  "yError":{"field":"e"},
  "color":{"field":"s","type":"nominal","scale":{"domain":["R","D","Z"],"range":["#00D861","#7a7a7a","#ffffff"]},
   "legend":{"title":"Standard error","values":["R","D"],"orient":"none","legendX":1212,"legendY":222,"symbolType":"square","symbolSize":484,"symbolStrokeWidth":0,"symbolOpacity":0.25,"labelOffset":9,"rowPadding":2,"titlePadding":8,"labelExpr":"datum.label == 'R' ? 'Retained' : 'Discarded'"}}}},
{"transform":[{"filter":"!datum.h"}],
 "mark":{"type":"line","strokeWidth":1.8},
 "encoding":{
  "x":{"field":"x","type":"quantitative","title":null},
  "y":{"field":"y","type":"quantitative","title":"β"},
  "detail":{"field":"g"},
  "stroke":{"field":"s","type":"nominal","scale":{"domain":["R","D"],"range":["#00D861","#7a7a7a"]},
   "legend":{"title":["Network−age","association"],"orient":"none","legendX":1212,"legendY":103,"symbolType":"stroke","symbolSize":324,"symbolStrokeWidth":2,"labelOffset":10,"rowPadding":6,"titlePadding":9,"labelExpr":"datum.label == 'R' ? 'Retained' : 'Discarded'"}}}},
{"transform":[{"window":[{"op":"row_number","as":"rn"}],"groupby":["v"]},{"filter":"datum.rn == 1"}],
 "mark":{"type":"rule","color":"#111111","strokeWidth":1.5,"strokeDash":[5,4]},
 "encoding":{"x":{"datum":31,"type":"quantitative","title":null}}}
]}
},
{
"data":{"name":"C"},
"title":{"text":"Consistency","anchor":"start","fontSize":16.5,"fontWeight":"bold","color":"#000000","dx":33,"offset":16},
"facet":{"column":{"field":"v","type":"nominal","sort":["SC","FA","MD","ICVF","ISOVF","OD"],"title":"network sparsity (%)"}},
"spec":{
"width":165,"height":121,
"layer":[
{"transform":[{"window":[{"op":"row_number","as":"rn"}],"groupby":["v"]},{"filter":"datum.rn == 1"}],
 "mark":{"type":"rule","color":"#5a5a5a","strokeWidth":1.1},
 "encoding":{"y":{"datum":0,"type":"quantitative","title":"β"}}},
{"mark":{"type":"errorband","opacity":0.25},
 "encoding":{
  "x":{"field":"x","type":"quantitative","title":null,"scale":{"domain":[-5,105],"nice":false,"zero":false},"axis":{"values":[0,25,50,75,100],"labelPadding":5}},
  "y":{"field":"y","type":"quantitative","title":"β","scale":{"domain":[-0.455,0.45],"nice":false,"zero":false},"axis":{"values":[-0.25,0,0.25],"format":".2f","labelPadding":8,"titleAngle":0,"titleFont":"Liberation Serif","titleFontSize":17,"titleAlign":"center","titleBaseline":"middle","titleX":-46,"titleY":60}},
  "yError":{"field":"e"},
  "color":{"field":"s","type":"nominal","scale":{"domain":["R","D","Z"],"range":["#00D861","#7a7a7a","#ffffff"]},
   "legend":{"title":"Standard error","values":["R","D"],"orient":"none","legendX":1212,"legendY":222,"symbolType":"square","symbolSize":484,"symbolStrokeWidth":0,"symbolOpacity":0.25,"labelOffset":9,"rowPadding":2,"titlePadding":8,"labelExpr":"datum.label == 'R' ? 'Retained' : 'Discarded'"}}}},
{"transform":[{"filter":"!datum.h"}],
 "mark":{"type":"line","strokeWidth":1.8},
 "encoding":{
  "x":{"field":"x","type":"quantitative","title":null},
  "y":{"field":"y","type":"quantitative","title":"β"},
  "detail":{"field":"g"},
  "stroke":{"field":"s","type":"nominal","scale":{"domain":["R","D"],"range":["#00D861","#7a7a7a"]},
   "legend":{"title":["Network−age","association"],"orient":"none","legendX":1212,"legendY":103,"symbolType":"stroke","symbolSize":324,"symbolStrokeWidth":2,"labelOffset":10,"rowPadding":6,"titlePadding":9,"labelExpr":"datum.label == 'R' ? 'Retained' : 'Discarded'"}}}},
{"transform":[{"window":[{"op":"row_number","as":"rn"}],"groupby":["v"]},{"filter":"datum.rn == 1"}],
 "mark":{"type":"rule","color":"#111111","strokeWidth":1.5,"strokeDash":[5,4]},
 "encoding":{"x":{"datum":70,"type":"quantitative","title":null}}}
]}
}
]
}
